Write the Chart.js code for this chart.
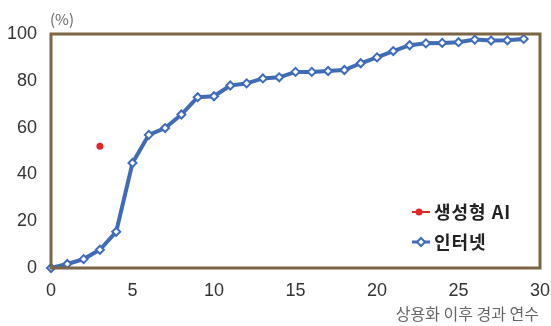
<!DOCTYPE html>
<html>
<head>
<meta charset="utf-8">
<script src="https://cdn.jsdelivr.net/npm/chart.js@4/dist/chart.umd.min.js"></script>
<style>
  html, body { margin: 0; padding: 0; background: #fff; }
  canvas { display: block; }
</style>
</head>
<body>
<canvas id="c" width="551" height="326"></canvas>
<script>
// Years since commercialisation
const years = [0, 1, 2, 3, 4, 5, 6, 7, 8, 9, 10, 11, 12, 13, 14, 15, 16, 17, 18, 19, 20, 21, 22, 23, 24, 25, 26, 27, 28, 29];
// Internet adoption rate (%)
const internetShare = [0, 1.7, 3.8, 7.8, 15.5, 44.9, 56.9, 59.8, 65.6, 73.0, 73.4, 78.0, 78.9, 81.0, 81.5, 83.8, 83.8, 84.2, 84.6, 87.5, 90.0, 92.7, 95.2, 96.0, 96.2, 96.5, 97.6, 97.2, 97.3, 97.9];
// Generative AI adoption rate (%)
const aiYears = [3];
const aiShare = [52];

const seriesNames = ['생성형 AI', '인터넷'];
const xTicks = [0, 5, 10, 15, 20, 25, 30];
const yTicks = [0, 20, 40, 60, 80, 100];
const unitLabel = '(%)';
const xTitle = '상용화 이후 경과 연수';

const BLUE = '#3f6cb9';
const RED = '#e8262a';
const FRAME = '#7b6544';
const TICK_FONT = { family: 'Liberation Sans, Arial, sans-serif', size: 18 };

// Frame, unit label, axis title and legend
const decor = {
  id: 'decor',
  afterDraw(chart) {
    const { ctx, chartArea: a } = chart;
    ctx.save();
    ctx.strokeStyle = FRAME;
    ctx.lineWidth = 3;
    ctx.strokeRect(a.left, a.top, a.right - a.left, a.bottom - a.top);

    ctx.fillStyle = '#666';
    ctx.font = '15px "Noto Sans CJK KR", "Liberation Sans", sans-serif';
    ctx.textBaseline = 'middle';
    ctx.textAlign = 'left';
    ctx.fillText(unitLabel, a.left - 1, 19);
    ctx.font = '16px "Noto Sans CJK KR", sans-serif';
    ctx.textAlign = 'right';
    ctx.fillText(xTitle, a.right - 1, 314);

    // legend
    const items = [
      { name: seriesNames[0], y: 212, color: RED, marker: 'dot' },
      { name: seriesNames[1], y: 242, color: BLUE, marker: 'diamond' }
    ];
    items.forEach(it => {
      ctx.strokeStyle = it.color;
      ctx.lineWidth = it.marker === 'dot' ? 2 : 3;
      ctx.beginPath();
      ctx.moveTo(412, it.y);
      ctx.lineTo(430, it.y);
      ctx.stroke();
      if (it.marker === 'dot') {
        ctx.fillStyle = it.color;
        ctx.beginPath();
        ctx.arc(419, it.y, 3.5, 0, Math.PI * 2);
        ctx.fill();
      } else {
        ctx.fillStyle = '#fff';
        ctx.lineWidth = 2;
        ctx.beginPath();
        ctx.moveTo(421, it.y - 4);
        ctx.lineTo(425, it.y);
        ctx.lineTo(421, it.y + 4);
        ctx.lineTo(417, it.y);
        ctx.closePath();
        ctx.fill();
        ctx.stroke();
      }
      ctx.fillStyle = '#222';
      ctx.font = 'bold 18px "Noto Sans CJK KR", sans-serif';
      ctx.letterSpacing = '1px';
      ctx.textAlign = 'left';
      ctx.fillText(it.name, 434, it.y);
      ctx.letterSpacing = '0px';
    });
    ctx.restore();
  }
};

new Chart(document.getElementById('c'), {
  type: 'line',
  data: {
    datasets: [
      {
        label: seriesNames[0],
        data: aiYears.map((x, i) => ({ x, y: aiShare[i] })),
        showLine: false,
        pointRadius: 3.5,
        pointBackgroundColor: RED,
        pointBorderColor: RED,
        pointBorderWidth: 0,
        clip: false
      },
      {
        label: seriesNames[1],
        data: years.map((x, i) => ({ x, y: internetShare[i] })),
        borderColor: BLUE,
        borderWidth: 4,
        pointStyle: 'rectRot',
        pointRadius: 4,
        pointBackgroundColor: '#fff',
        pointBorderColor: BLUE,
        pointBorderWidth: 2,
        tension: 0,
        clip: false
      }
    ]
  },
  options: {
    responsive: false,
    animation: false,
    events: [],
    layout: { padding: { top: 34, left: 0, right: 0, bottom: 0 } },
    plugins: { legend: { display: false }, tooltip: { enabled: false } },
    scales: {
      x: {
        type: 'linear',
        min: 0, max: 30,
        afterBuildTicks: s => { s.ticks = xTicks.map(v => ({ value: v })); },
        afterFit: s => { s.height = 58; s.paddingLeft = 0; s.paddingRight = 11; },
        grid: { display: false, drawTicks: false },
        border: { display: false },
        ticks: { font: TICK_FONT, color: '#333', padding: 12, maxRotation: 0 }
      },
      y: {
        min: 0, max: 100,
        afterBuildTicks: s => { s.ticks = yTicks.map(v => ({ value: v })); },
        afterFit: s => { s.width = 51; s.paddingTop = 0; s.paddingBottom = 0; },
        grid: { display: false, drawTicks: false },
        border: { display: false },
        ticks: { font: TICK_FONT, color: '#333', padding: 14 }
      }
    }
  },
  plugins: [decor]
});
</script>
</body>
</html>
